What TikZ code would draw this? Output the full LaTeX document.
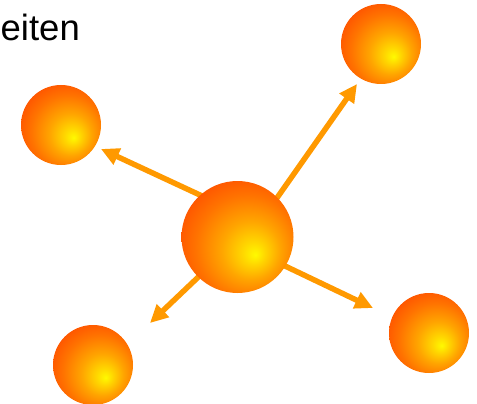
\documentclass[tikz,border=0pt]{standalone}
\usepackage{fontspec}
\setmainfont{Liberation Sans}
\usetikzlibrary{arrows.meta}
\definecolor{arrowor}{RGB}{255,153,0}
\definecolor{sA}{RGB}{255,250,0}
\definecolor{sB}{RGB}{255,215,0}
\definecolor{sC}{RGB}{255,165,0}
\definecolor{sD}{RGB}{255,115,0}
\definecolor{sE}{RGB}{255,70,0}
\definecolor{sF}{RGB}{255,60,0}
\pgfdeclareradialshading{spheresh}{\pgfpoint{8bp}{-8bp}}{%
  color(0bp)=(sA); color(5bp)=(sB); color(13bp)=(sC); color(23bp)=(sD);
  color(34bp)=(sE); color(50bp)=(sF)}
\tikzset{
  ball/.style={circle, inner sep=0pt, shading=spheresh},
  smallball/.style={ball, minimum size=80pt},
  bigball/.style={ball, minimum size=112pt},
  spread/.style={draw=arrowor, line width=5.5pt,
    -{Triangle[length=18pt,width=17pt]}},
  label/.style={font=\fontsize{36.5pt}{40pt}\selectfont, inner sep=0pt, anchor=base west}
}
\begin{document}
\begin{tikzpicture}[x=1pt,y=-1pt]
\useasboundingbox (0,0) rectangle (477,404);
\node[label] (title) at (0.5,40.5) {eiten};
% arrow coordinates
\coordinate (aL0) at (215,202);
\coordinate (aL1) at (101,149);
\coordinate (aBL0) at (212,264);
\coordinate (aBL1) at (150,323);
\coordinate (aBR0) at (262,255);
\coordinate (aBR1) at (373,308);
\coordinate (aTR0) at (265,215);
\coordinate (aTR1) at (357,84);
\draw[spread] (aL0) -- (aL1);
\draw[spread] (aBL0) -- (aBL1);
\draw[spread] (aBR0) -- (aBR1);
\draw[spread] (aTR0) -- (aTR1);
% spheres
\node[bigball] (c) at (237.5,237) {};
\node[smallball] (tr) at (381,44) {};
\node[smallball] (l) at (61,125) {};
\node[smallball] (bl) at (93,365) {};
\node[smallball] (br) at (429,333) {};
\end{tikzpicture}
\end{document}
